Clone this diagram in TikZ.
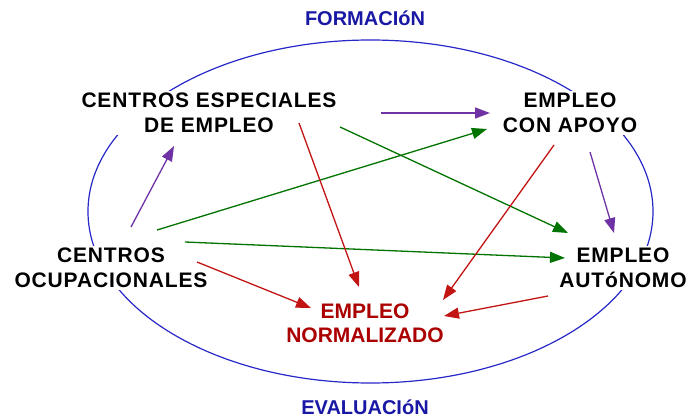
\documentclass[tikz,border=0pt]{standalone}
\usepackage{fontspec}
\setmainfont{Liberation Sans}
\newfontfamily\lblfont[LetterSpace=4]{Liberation Sans}
\usetikzlibrary{arrows.meta}
\definecolor{tblue}{RGB}{24,24,165}
\definecolor{eblue}{RGB}{40,40,200}
\definecolor{tred}{RGB}{170,0,0}
\definecolor{ared}{RGB}{195,20,20}
\definecolor{agreen}{RGB}{0,115,0}
\definecolor{apurple}{RGB}{110,50,165}
\tikzset{
  lbl/.style={align=center, fill=white, inner sep=2pt, font=\lblfont\bfseries\fontsize{21}{24.5}\selectfont},
  redlbl/.style={lbl, text=tred, font=\bfseries\fontsize{21}{24.5}\selectfont},
  ttl/.style={inner sep=1pt, text=tblue, font=\bfseries\fontsize{20}{24}\selectfont},
  arr/.style={line width=1.3pt, -{Triangle[length=15pt,width=11pt]}},
  parr/.style={arr, apurple},
  garr/.style={arr, agreen},
  rarr/.style={arr, ared}
}
\begin{document}
\begin{tikzpicture}[x=1pt,y=-1pt]
\useasboundingbox (0,0) rectangle (691,420);
\draw[eblue, line width=1.2pt] (370.5,211.5) ellipse [x radius=282.5, y radius=171.5];

\node[ttl] (form) at (365,18) {FORMACI\'oN};
\node[ttl] (eval) at (365,407) {EVALUACI\'oN};

\node[lbl] (ces) at (209,113) {CENTROS ESPECIALES\\DE EMPLEO};
\node[lbl] (eca) at (570,113) {EMPLEO\\CON APOYO};
\node[lbl] (coc) at (111,268) {CENTROS\\OCUPACIONALES};
\node[lbl] (eau) at (623,268) {EMPLEO\\AUT\'oNOMO};
\node[redlbl] (enor) at (365,323.5) {EMPLEO\\NORMALIZADO};

\coordinate (p1s) at (131,227); \coordinate (p1e) at (174,146);
\coordinate (p2s) at (381,113); \coordinate (p2e) at (490,113);
\coordinate (p3s) at (590,152); \coordinate (p3e) at (614,233);
\coordinate (g1s) at (157,230); \coordinate (g1e) at (487,129);
\coordinate (g2s) at (340,127); \coordinate (g2e) at (568,233);
\coordinate (g3s) at (185,242); \coordinate (g3e) at (565,258);
\coordinate (r1s) at (299,123); \coordinate (r1e) at (359,287);
\coordinate (r2s) at (554,145); \coordinate (r2e) at (443,300);
\coordinate (r3s) at (197,262); \coordinate (r3e) at (311,308);
\coordinate (r4s) at (548,296); \coordinate (r4e) at (444,316);

\draw[parr] (p1s) -- (p1e);
\draw[parr] (p2s) -- (p2e);
\draw[parr] (p3s) -- (p3e);
\draw[garr] (g1s) -- (g1e);
\draw[garr] (g2s) -- (g2e);
\draw[garr] (g3s) -- (g3e);
\draw[rarr] (r1s) -- (r1e);
\draw[rarr] (r2s) -- (r2e);
\draw[rarr] (r3s) -- (r3e);
\draw[rarr] (r4s) -- (r4e);
\end{tikzpicture}
\end{document}
